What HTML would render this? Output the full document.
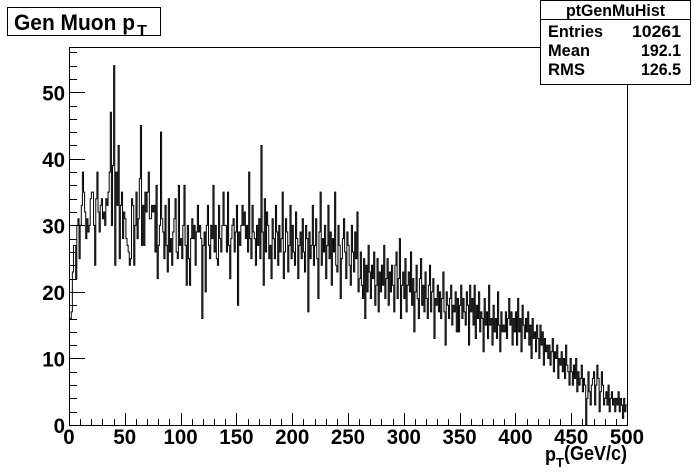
<!DOCTYPE html>
<html><head><meta charset="utf-8"><style>
html,body{margin:0;padding:0;background:#fff;}
svg{display:block;font-family:"Liberation Sans",Arial,sans-serif;}
</style></head><body>
<svg id="c" width="696" height="472" viewBox="0 0 696 472">
<rect x="0" y="0" width="696" height="472" fill="#fff"/>
<g id="frame"></g>
<path id="hist" fill="none" stroke="#000" stroke-width="1"/>
<g id="axes"></g>
<g>
<rect x="7.5" y="7.5" width="153" height="28" fill="#fff" stroke="#000"/>
<text x="14" y="30" font-size="22" font-weight="bold" textLength="121" lengthAdjust="spacingAndGlyphs">Gen Muon p</text>
<text x="137" y="35" font-size="15" font-weight="bold" textLength="10" lengthAdjust="spacingAndGlyphs">T</text>
</g>
<g>
<rect x="540.5" y="0.5" width="150" height="84" fill="#fff" stroke="#000"/>
<line x1="540" y1="19.5" x2="691" y2="19.5" stroke="#000"/>
<text x="566" y="16" font-size="17" font-weight="bold" textLength="99" lengthAdjust="spacingAndGlyphs">ptGenMuHist</text>
<text x="548" y="37" font-size="17" font-weight="bold" textLength="55" lengthAdjust="spacingAndGlyphs">Entries</text>
<text x="632" y="37" font-size="17" font-weight="bold" textLength="49" lengthAdjust="spacingAndGlyphs">10261</text>
<text x="548" y="56" font-size="17" font-weight="bold" textLength="42" lengthAdjust="spacingAndGlyphs">Mean</text>
<text x="641" y="56" font-size="17" font-weight="bold" textLength="40" lengthAdjust="spacingAndGlyphs">192.1</text>
<text x="548" y="75" font-size="17" font-weight="bold" textLength="37" lengthAdjust="spacingAndGlyphs">RMS</text>
<text x="641" y="75" font-size="17" font-weight="bold" textLength="40" lengthAdjust="spacingAndGlyphs">126.5</text>
</g>
<g>
<text x="545" y="461" font-size="20" font-weight="bold" textLength="11" lengthAdjust="spacingAndGlyphs">p</text>
<text x="556" y="467" font-size="13" font-weight="bold">T</text>
<text x="564" y="460" font-size="20" font-weight="bold" textLength="63" lengthAdjust="spacingAndGlyphs">(GeV/c)</text>
</g>
</svg>
<script>
const counts = [
16,16,17,23,27,27,22,30,31,25, 30,33,38,35,32,28,31,29,30,34,
35,35,30,24,34,38,32,29,33,34, 31,32,30,34,33,35,38,47,30,39,
54,24,38,33,42,25,33,35,28,32, 31,28,27,26,24,25,34,33,24,30,
35,28,31,37,45,27,33,27,35,32, 35,38,31,31,33,32,33,26,36,22,
27,30,44,31,29,25,33,27,23,34, 26,28,24,29,31,34,26,25,36,27,
28,25,30,36,27,21,30,25,21,28, 31,28,30,24,29,33,29,30,28,16,
27,29,20,30,33,27,25,30,28,36, 26,30,25,24,33,28,26,30,35,30,
30,26,35,27,22,28,30,31,26,29, 33,18,29,27,30,33,30,32,28,30,
26,38,28,25,33,29,28,24,30,27, 31,25,42,29,21,34,26,32,30,25,
27,22,31,28,25,33,29,24,30,26, 28,35,22,26,31,29,23,27,33,25,
30,26,24,32,28,22,27,29,25,31, 26,23,30,28,17,29,25,27,33,24,
27,31,25,19,29,35,24,28,26,30, 22,27,33,25,29,21,28,26,35,24,
23,30,27,19,25,28,31,26,22,29, 27,24,21,30,26,23,29,25,32,20,
22,26,21,19,25,16,24,20,27,23, 19,24,22,26,18,21,25,17,23,20,
24,21,27,19,22,25,18,23,20,24, 21,17,24,26,19,22,28,16,21,23,
19,25,17,21,23,20,26,18,22,14, 20,24,19,16,22,25,18,21,17,23,
19,16,21,24,17,20,22,13,19,18, 21,17,20,16,19,23,17,12,20,18,
16,19,21,15,18,17,20,14,19,14, 18,21,16,19,17,15,20,18,12,21,
17,19,15,21,13,18,16,20,14,17, 16,11,19,15,17,13,21,15,16,12,
18,14,16,13,20,15,11,17,14,15, 14,17,13,16,19,15,17,12,16,14,
17,12,19,14,16,11,18,15,13,16, 14,17,12,15,10,16,13,14,11,15,
13,10,15,12,14,9,13,11,12,10, 12,9,11,13,8,11,10,12,7,10,
9,11,8,10,7,12,9,8,6,10, 8,6,9,7,10,5,8,6,7,9,
5,7,6,0,4,8,5,3,6,7, 8,3,6,9,7,2,5,8,6,3,
4,5,3,6,2,4,5,3,4,2, 4,3,5,2,4,3,1,4,2,3
];
const xTicks = [0,50,100,150,200,250,300,350,400,450,500];
const yTicks = [0,10,20,30,40,50];
const xMin=0, xMax=500, yMin=0, yMax=56.8;
const L=69, R=627, T=47, B=425;
const sx = v => L + (v-xMin)/(xMax-xMin)*(R-L);
const sy = v => B - (v-yMin)/(yMax-yMin)*(B-T);
const NS="http://www.w3.org/2000/svg";
function mk(tag, attrs, parent){const e=document.createElementNS(NS,tag);for(const k in attrs)e.setAttribute(k,attrs[k]);parent.appendChild(e);return e;}
const frame=document.getElementById('frame');
const fr=mk('rect',{x:L+0.5,y:T+0.5,width:R-L,height:B-T,fill:'none',stroke:'#000'},frame);


const bw=(xMax-xMin)/counts.length;
let d='';
counts.forEach((c,i)=>{
  const x0=sx(xMin+i*bw), x1=sx(xMin+(i+1)*bw), y=sy(c);
  d += (i===0?'M'+x0.toFixed(2)+','+y.toFixed(2):'V'+y.toFixed(2)) + 'H'+x1.toFixed(2);
});
document.getElementById('hist').setAttribute('d',d);
const axes=document.getElementById('axes');
for(let v=0; v<=500; v+=10){
  const major = v%50===0;
  const x=Math.round(sx(v))+0.5;
  const t=mk('line',{x1:x,y1:B,x2:x,y2:B-(major?12:6),stroke:'#000'},axes);
  
  
}
xTicks.forEach(v=>{
  const s=String(v);
  const t=mk('text',{x:sx(v)-s.length*5.7,y:B+19,'font-size':21,'font-weight':'bold',textLength:s.length*11.4,lengthAdjust:'spacingAndGlyphs'},axes);
  t.textContent=s;
  
  
});
for(let v=0; v<=56; v+=2){
  const major=v%10===0;
  const y=Math.round(sy(v))+0.5;
  const t=mk('line',{x1:L,y1:y,x2:L+(major?16:8),y2:y,stroke:'#000'},axes);
  
  
}
yTicks.forEach(v=>{
  const s=String(v);
  const t=mk('text',{x:L-4-s.length*11.4,y:sy(v)+8,'font-size':21,'font-weight':'bold',textLength:s.length*11.4,lengthAdjust:'spacingAndGlyphs'},axes);
  t.textContent=s;
  
  
});
</script>
</body></html>
